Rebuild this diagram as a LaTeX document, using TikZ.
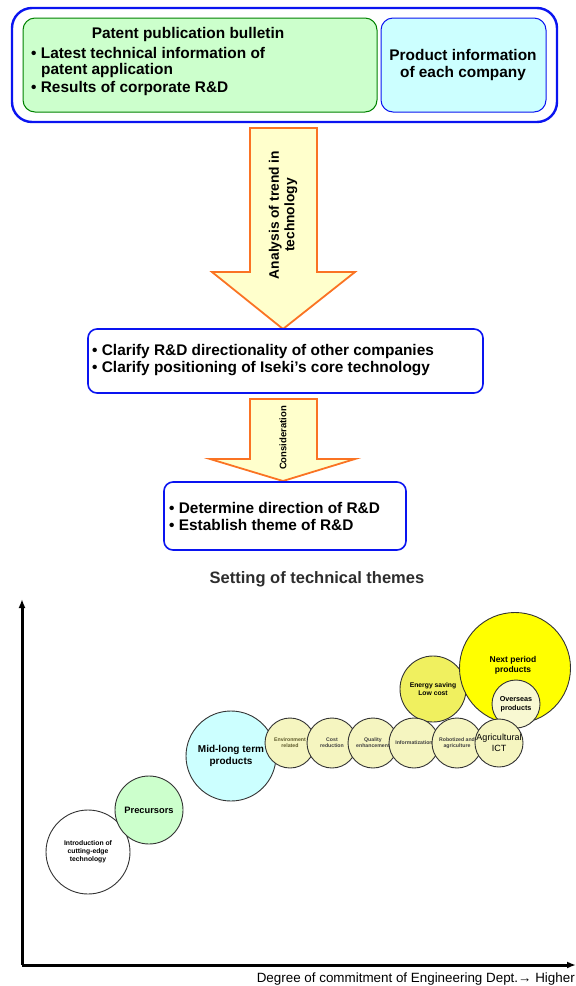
\documentclass[tikz,border=0pt]{standalone}
\usepackage{fontspec}
\setmainfont{Liberation Sans}
\usepackage{tikz}
\usetikzlibrary{arrows.meta,positioning}
\definecolor{frameblue}{RGB}{10,20,240}
\definecolor{patfill}{RGB}{204,255,204}
\definecolor{patline}{RGB}{0,130,0}
\definecolor{prodfill}{RGB}{204,255,255}
\definecolor{arrfill}{RGB}{255,255,204}
\definecolor{arrline}{RGB}{250,115,35}
\definecolor{palebub}{RGB}{245,245,192}
\definecolor{energybub}{RGB}{240,240,95}
\definecolor{nextbub}{RGB}{255,255,0}
\definecolor{overbub}{RGB}{248,248,210}
\definecolor{titlegray}{RGB}{45,45,45}

\begin{document}
\begin{tikzpicture}[x=1pt, y=-1pt, >=Latex,
  bodytext/.style={font=\fontsize{15.4}{17}\selectfont\bfseries, inner sep=0pt},
  flowbox/.style={draw=frameblue, line width=1.6pt, rounded corners=9pt, fill=white},
  flowarrow/.style={fill=arrfill, draw=arrline, line width=1.8pt, line join=miter},
  bubble/.style={circle, draw=black!80, line width=0.9pt, inner sep=0pt, align=center, font=\bfseries},
  rowbubble/.style={bubble, fill=palebub, minimum size=50pt, font=\fontsize{5.2}{6.2}\selectfont\bfseries, text=black!75}]

\useasboundingbox (0,0) rectangle (576,986);

% ==========================================
% Information sources
% ==========================================
\draw[draw=frameblue, line width=2.4pt, rounded corners=20pt] (12,8) rectangle (557,122);
\draw[fill=patfill, draw=patline, line width=1pt, rounded corners=12pt] (23,18) rectangle (377,112);
\draw[fill=prodfill, draw=frameblue, line width=1pt, rounded corners=12pt] (381,18) rectangle (546,112);

\node[bodytext] (pattitle) at (188,35) {Patent publication bulletin};
\node[bodytext, anchor=west] (patlatest) at (31,53) {\textbullet\ Latest technical information of};
\node[bodytext, anchor=west] (patappl) at (41,71) {patent application};
\node[bodytext, anchor=west] (patresult) at (31,89) {\textbullet\ Results of corporate R\&D};

\node[bodytext, align=center, font=\fontsize{15.4}{17}\selectfont\bfseries] (prodinfo) at (463,65) {Product information\\of each company};

% ==========================================
% First block arrow
% ==========================================
\draw[flowarrow] (250,128) -- (317,128) -- (317,272) -- (355,272) -- (283,329)
  -- (212,272) -- (250,272) -- cycle;
\node[rotate=90, align=center, font=\fontsize{13.8}{15.5}\selectfont\bfseries] (trendlbl) at (283,215)
  {Analysis of trend in\\technology};

% ==========================================
% Clarification box
% ==========================================
\draw[flowbox] (88,329) rectangle (483,393);
\node[bodytext, anchor=west] (clarifyrd) at (92,352) {\textbullet\ Clarify R\&D directionality of other companies};
\node[bodytext, anchor=west] (clarifypos) at (92,369) {\textbullet\ Clarify positioning of Iseki’s core technology};

% ==========================================
% Second block arrow
% ==========================================
\draw[flowarrow] (250,399) -- (317,399) -- (317,459) -- (355,459) -- (283,481)
  -- (210,459) -- (250,459) -- cycle;
\node[rotate=90, font=\fontsize{9.5}{11}\selectfont\bfseries] (considlbl) at (283,438) {Consideration};

% ==========================================
% Direction box
% ==========================================
\draw[flowbox] (164,482) rectangle (406,550);
\node[bodytext, anchor=west] (determine) at (169,508) {\textbullet\ Determine direction of R\&D};
\node[bodytext, anchor=west] (establish) at (169,525) {\textbullet\ Establish theme of R\&D};

% ==========================================
% Setting of technical themes
% ==========================================
\node[font=\fontsize{16.5}{18}\selectfont\bfseries, text=titlegray] (themetitle) at (317,579) {Setting of technical themes};

\coordinate (origin) at (22,965);
\coordinate (ytop) at (22,599);
\coordinate (xend) at (576,965);
\draw[line width=3pt, -{Latex[length=9pt,width=7pt]}] (origin) -- (ytop);
\draw[line width=3pt, -{Latex[length=9pt,width=7pt]}] (origin) -- (xend);
\node[anchor=east, font=\fontsize{13.4}{15}\selectfont, inner sep=0pt] (xlabel) at (575,979)
  {Degree of commitment of Engineering Dept.→ Higher};

% bubbles, back to front
\node[bubble, fill=energybub, minimum size=66pt, font=\fontsize{6.8}{8}\selectfont\bfseries] (energy) at (433,689) {Energy saving\\Low cost};
\node[bubble, fill=nextbub, minimum size=111pt] (nextprod) at (515,668) {};
\node[font=\fontsize{8.5}{10}\selectfont\bfseries, align=center] (nextlbl) at (513,665) {Next period\\products};
\node[bubble, fill=overbub, minimum size=48pt, font=\fontsize{7.2}{8.5}\selectfont\bfseries] (overseas) at (516,704) {Overseas\\products};

\node[bubble, fill=white, minimum size=84pt, font=\fontsize{6.8}{7.8}\selectfont\bfseries] (intro) at (88,852) {Introduction of\\cutting-edge\\technology};
\node[bubble, fill=patfill, minimum size=68pt, font=\fontsize{9.3}{11}\selectfont\bfseries] (precursor) at (149,810) {Precursors};
\node[bubble, fill=prodfill, minimum size=90pt, font=\fontsize{10}{12}\selectfont\bfseries] (midlong) at (231,756) {Mid-long term\\products};

\node[rowbubble, text=black!45!olive] (environ) at (290,743) {Environment\\related};
\node[rowbubble] (costred) at (332,743) {Cost\\reduction};
\node[rowbubble] (quality) at (373,743) {Quality\\enhancement};
\node[rowbubble] (inform) at (414,743) {Informatization};
\node[rowbubble] (robotag) at (457,743) {Robotized and\\agriculture};
\node[rowbubble, minimum size=48pt, font=\fontsize{9}{10.5}\selectfont, text=black] (agrict) at (499,743) {Agricultural\\ICT};

\end{tikzpicture}
\end{document}
